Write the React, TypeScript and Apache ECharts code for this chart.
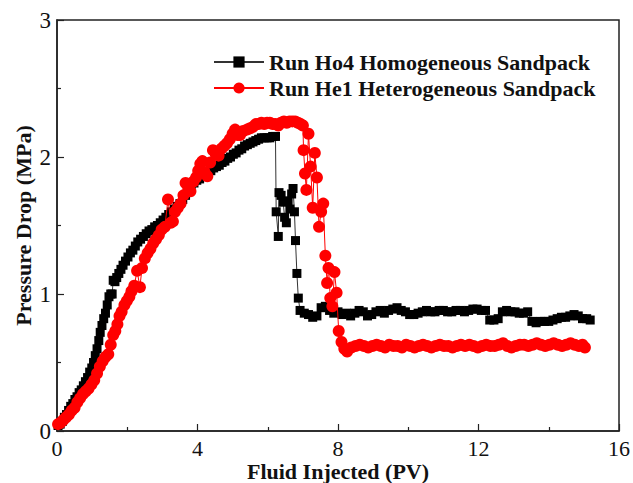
import React, { useEffect, useRef } from "react";
import * as echarts from "echarts";

const xTicks = [0, 4, 8, 12, 16];
const yTicks = [0, 1, 2, 3];

const homoX = [
  0.03, 0.09, 0.15, 0.21, 0.27, 0.33, 0.39, 0.45, 0.51, 0.57, 0.63, 0.69, 0.75, 0.81, 0.87, 0.93, 0.99,
  1.04, 1.09, 1.14, 1.19, 1.23, 1.28, 1.33, 1.38, 1.43, 1.48, 1.53, 1.57, 1.6, 1.65, 1.7, 1.76, 1.82,
  1.88, 1.95, 2.02, 2.09, 2.16, 2.23, 2.3, 2.38, 2.46, 2.54, 2.62, 2.7, 2.78, 2.86, 2.94, 3.02, 3.1,
  3.18, 3.26, 3.34, 3.42, 3.5, 3.58, 3.66, 3.74, 3.82, 3.9, 3.98, 4.06, 4.14, 4.22, 4.3, 4.38, 4.46,
  4.54, 4.62, 4.7, 4.78, 4.86, 4.94, 5.02, 5.1, 5.18, 5.26, 5.34, 5.42, 5.5, 5.58, 5.66, 5.74, 5.82,
  5.9, 5.98, 6.06, 6.14, 6.22,
  6.24, 6.3, 6.32, 6.38, 6.44, 6.48, 6.53, 6.58, 6.63, 6.68, 6.72, 6.76, 6.79, 6.83, 6.87,
  6.92, 7.04, 7.16, 7.28, 7.4, 7.52, 7.64, 7.76, 7.88, 8.0, 8.12, 8.24, 8.36, 8.48, 8.6, 8.72, 8.84,
  8.96, 9.08, 9.2, 9.32, 9.44, 9.56, 9.68, 9.8, 9.92, 10.04, 10.16, 10.28, 10.4, 10.52, 10.64, 10.76,
  10.88, 11.0, 11.12, 11.24, 11.36, 11.48, 11.6, 11.72, 11.84, 11.96, 12.08, 12.2, 12.32, 12.44, 12.56,
  12.68, 12.8, 12.92, 13.04, 13.16, 13.28, 13.4, 13.52, 13.64, 13.76, 13.88, 14.0, 14.12, 14.24, 14.36,
  14.48, 14.6, 14.72, 14.84, 14.96, 15.08, 15.18,
];
const homoY = [
  0.04, 0.05, 0.07, 0.1, 0.12, 0.15, 0.18, 0.2, 0.23, 0.25, 0.28, 0.3, 0.33, 0.36, 0.39, 0.43, 0.46,
  0.5, 0.55, 0.6, 0.66, 0.72, 0.77, 0.82, 0.86, 0.92, 0.98, 1.0, 1.0, 1.1, 1.09, 1.12, 1.15, 1.18,
  1.21, 1.24, 1.27, 1.3, 1.32, 1.35, 1.38, 1.4, 1.42, 1.44, 1.46, 1.47, 1.49, 1.5, 1.52, 1.54, 1.56,
  1.58, 1.6, 1.62, 1.64, 1.66, 1.69, 1.72, 1.75, 1.79, 1.81, 1.83, 1.84, 1.86, 1.87, 1.89, 1.9, 1.92,
  1.93, 1.94, 1.96, 1.97, 1.99, 2.0, 2.02, 2.03, 2.05, 2.06, 2.08, 2.09, 2.1, 2.11, 2.12, 2.13, 2.14,
  2.14, 2.14, 2.14, 2.15, 2.15,
  1.6, 1.42, 1.74, 1.72, 1.67, 1.56, 1.52, 1.68, 1.62, 1.73, 1.77, 1.6, 1.39, 1.15, 0.97,
  0.88, 0.86, 0.85, 0.83, 0.84, 0.9, 0.91, 0.88, 0.86, 0.87, 0.85, 0.86, 0.84, 0.86, 0.88, 0.87, 0.84,
  0.85, 0.87, 0.88, 0.86, 0.88, 0.89, 0.9, 0.88, 0.87, 0.85, 0.85, 0.86, 0.87, 0.88, 0.87, 0.87,
  0.88, 0.88, 0.87, 0.87, 0.88, 0.88, 0.87, 0.88, 0.89, 0.89, 0.88, 0.88, 0.81, 0.81, 0.82,
  0.87, 0.88, 0.87, 0.87, 0.86, 0.86, 0.87, 0.8, 0.79, 0.8, 0.8, 0.8, 0.81, 0.82, 0.83,
  0.83, 0.84, 0.85, 0.84, 0.82, 0.82, 0.81,
];

const heteX = [
  0.03, 0.1, 0.18, 0.26, 0.34, 0.42, 0.5, 0.58, 0.66, 0.74, 0.82, 0.9, 0.98, 1.06, 1.14, 1.22, 1.3,
  1.38, 1.46, 1.53, 1.6, 1.66, 1.72, 1.78, 1.84, 1.92, 1.99, 2.06, 2.12, 2.2, 2.28, 2.36, 2.42, 2.5,
  2.58, 2.66, 2.74, 2.82, 2.9, 2.98, 3.07, 3.16, 3.24, 3.3, 3.36, 3.44, 3.52, 3.6, 3.66, 3.74, 3.8,
  3.88, 3.96, 4.02, 4.08, 4.14, 4.2, 4.28, 4.36, 4.44, 4.52, 4.6, 4.68, 4.76, 4.84, 4.92, 5.0, 5.07,
  5.14, 5.21, 5.3, 5.41, 5.5, 5.58, 5.66, 5.74, 5.82, 5.9, 5.98, 6.06, 6.14, 6.22, 6.3, 6.38, 6.46,
  6.54, 6.62, 6.7, 6.78, 6.86, 6.94, 7.0,
  7.02, 7.06, 7.1, 7.16, 7.22, 7.28, 7.34, 7.4, 7.46, 7.52, 7.58, 7.64, 7.69, 7.73, 7.78, 7.84, 7.9,
  7.96, 8.02, 8.1, 8.18,
  8.26, 8.38, 8.5, 8.62, 8.74, 8.86, 8.98, 9.1, 9.22, 9.34, 9.46, 9.58, 9.7, 9.82, 9.94, 10.06, 10.18,
  10.3, 10.42, 10.54, 10.66, 10.78, 10.9, 11.02, 11.14, 11.26, 11.38, 11.5, 11.62, 11.74, 11.86, 11.98,
  12.1, 12.22, 12.34, 12.46, 12.58, 12.7, 12.82, 12.94, 13.06, 13.18, 13.3, 13.42, 13.54, 13.66, 13.78,
  13.9, 14.02, 14.14, 14.26, 14.38, 14.5, 14.62, 14.74, 14.86, 14.96, 15.03,
];
const heteY = [
  0.05, 0.06, 0.08, 0.1, 0.12, 0.15, 0.17, 0.21, 0.24, 0.27, 0.29, 0.31, 0.34, 0.37, 0.42, 0.47, 0.51,
  0.54, 0.56, 0.63, 0.7, 0.73, 0.78, 0.84, 0.87, 0.92, 0.95, 0.98, 1.02, 1.06, 1.17, 1.05, 1.19, 1.26,
  1.3, 1.33, 1.37, 1.4, 1.43, 1.47, 1.49, 1.69, 1.52, 1.53, 1.6, 1.63, 1.66, 1.72, 1.81, 1.77, 1.75,
  1.82, 1.85, 1.9, 1.95, 1.97, 1.89, 1.86, 1.96, 2.05, 2.02, 2.01, 2.06, 2.08, 2.1, 2.13, 2.17, 2.2,
  2.16, 2.16, 2.19, 2.2, 2.21, 2.22, 2.24, 2.24, 2.25, 2.24, 2.25, 2.25, 2.24, 2.24, 2.23, 2.25, 2.26,
  2.25, 2.26, 2.26, 2.26, 2.25, 2.24, 2.23,
  2.05, 1.88, 1.76, 2.17, 1.93, 1.63, 2.03, 1.85, 1.49, 1.6, 1.66, 1.28, 1.08, 1.19, 0.97, 0.91, 1.16,
  1.01, 0.73, 0.65, 0.6,
  0.58, 0.61, 0.62, 0.63, 0.62, 0.61, 0.62, 0.63, 0.62, 0.61, 0.63, 0.62, 0.62, 0.61, 0.63, 0.62, 0.61,
  0.62, 0.63, 0.62, 0.61, 0.62, 0.63, 0.62, 0.62, 0.61, 0.62, 0.63, 0.62, 0.63, 0.62, 0.61,
  0.62, 0.63, 0.62, 0.62, 0.63, 0.64, 0.62, 0.61, 0.62, 0.63, 0.63, 0.62, 0.63, 0.64, 0.63,
  0.62, 0.63, 0.64, 0.63, 0.62, 0.63, 0.64, 0.63, 0.62, 0.63, 0.61,
];

const seriesNames = ["Run Ho4 Homogeneous Sandpack", "Run He1 Heterogeneous Sandpack"];

const FONT = "'Liberation Serif', 'Times New Roman', serif";

export default function App() {
  const ref = useRef<HTMLDivElement>(null);
  useEffect(() => {
    if (!ref.current) return;
    const chart = echarts.init(ref.current, undefined, { renderer: "svg" });
    const homo = homoX.map((x, i) => [x, homoY[i]]);
    const hete = heteX.map((x, i) => [x, heteY[i]]);
    chart.setOption({
      animation: false,
      backgroundColor: "#fff",
      grid: {
        left: 57,
        right: 14,
        top: 20,
        bottom: 52,
        outerBoundsMode: "none",
        containLabel: false,
        show: true,
        borderColor: "#222",
        borderWidth: 1.5,
        backgroundColor: "transparent",
      },
      legend: {
        orient: "vertical",
        left: 208,
        top: 46,
        itemWidth: 50,
        itemHeight: 14,
        itemGap: 4,
        data: seriesNames,
        textStyle: { fontFamily: FONT, fontSize: 22, fontWeight: "bold", color: "#111" },
      },
      xAxis: {
        type: "value",
        min: xTicks[0],
        max: xTicks[xTicks.length - 1],
        interval: 4,
        name: "Fluid Injected (PV)",
        nameLocation: "middle",
        nameGap: 29,
        nameMoveOverlap: false,
        nameTextStyle: { fontFamily: FONT, fontSize: 22, fontWeight: "bold", color: "#111" },
        axisLine: { show: true, lineStyle: { color: "#222", width: 1.5 } },
        axisTick: { show: true, inside: true, length: 7, lineStyle: { color: "#222", width: 1.2 } },
        minorTick: { show: true, splitNumber: 2, length: 4, lineStyle: { color: "#222", width: 1.2 } },
        splitLine: { show: false },
        axisLabel: { fontFamily: FONT, fontSize: 22, color: "#111", margin: 6 },
      },
      yAxis: {
        type: "value",
        min: yTicks[0],
        max: yTicks[yTicks.length - 1],
        interval: 1,
        name: "Pressure Drop (MPa)",
        nameLocation: "middle",
        nameGap: 23,
        nameMoveOverlap: false,
        nameTextStyle: { fontFamily: FONT, fontSize: 22, fontWeight: "bold", color: "#111" },
        axisLine: { show: true, lineStyle: { color: "#222", width: 1.5 } },
        axisTick: { show: true, inside: true, length: 7, lineStyle: { color: "#222", width: 1.2 } },
        minorTick: { show: true, splitNumber: 2, length: 4, lineStyle: { color: "#222", width: 1.2 } },
        splitLine: { show: false },
        axisLabel: { fontFamily: FONT, fontSize: 23, color: "#111", margin: 6 },
      },
      series: [
        {
          name: seriesNames[0],
          type: "line",
          data: homo,
          symbol: "rect",
          symbolSize: 9,
          showAllSymbol: true,
          itemStyle: { color: "#000" },
          lineStyle: { color: "#333", width: 1 },
          z: 2,
        },
        {
          name: seriesNames[1],
          type: "line",
          data: hete,
          symbol: "circle",
          symbolSize: 12,
          showAllSymbol: true,
          itemStyle: { color: "#ff0000" },
          lineStyle: { color: "#ff0000", width: 1 },
          z: 3,
        },
      ],
    });
    return () => chart.dispose();
  }, []);
  return <div ref={ref} style={{ width: 633, height: 483, position: "absolute", left: 0, top: 0 }} />;
}
